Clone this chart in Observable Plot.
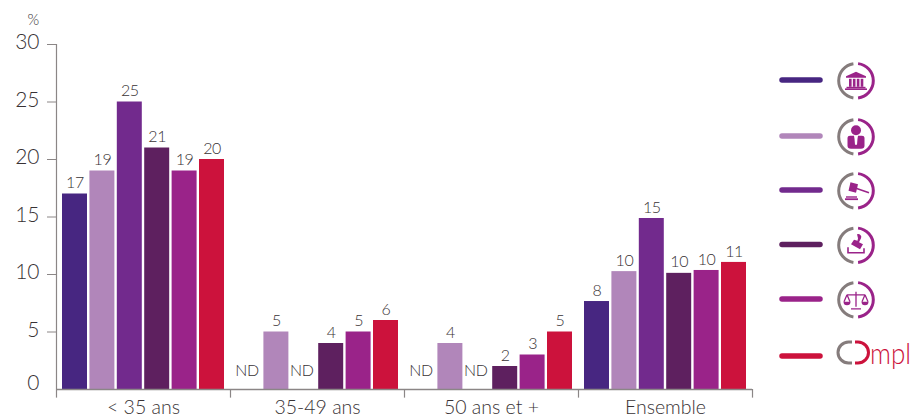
<!DOCTYPE html>
<html><head><meta charset="utf-8">
<style>
html,body{margin:0;padding:0;background:#fff;overflow:hidden}
#wrap{position:relative;width:911px;height:415px}
#wrap svg{position:absolute;left:0;top:0;display:block}
#wrap g[aria-label="text"] text{letter-spacing:-.4px}
</style>
<script src="https://cdn.jsdelivr.net/npm/d3@7"></script>
<script src="https://cdn.jsdelivr.net/npm/@observablehq/plot@0.6"></script>
</head><body><div id="wrap"></div>
<script>
const groups = ["< 35 ans","35-49 ans","50 ans et +","Ensemble"];
const series = ["Fonction publique","Cadres","Justice","Huissiers","Droit","Ompl"];
const colors = ["#472681","#b186ba","#722a8d","#5e205f","#9a2389","#cc123c"];
const under35 = [17,19,25,21,19,20];
const mid = [null,5,null,4,5,6];
const over50 = [null,4,null,2,3,5];
const ensemble = [7.65,10.25,14.87,10.1,10.35,11.05];
const ensembleLabels = ["8","10","15","10","10","11"];
const yTicks = [5,10,15,20,25,30];
const yOrigin = [0];
const grey = "#8b8686", ink = "#383234";
const FONT = "Lato, 'Open Sans', sans-serif";

const table = [under35, mid, over50, ensemble];
const rows = groups.flatMap((g,i)=>series.map((s,j)=>{
  const v = table[i][j];
  return {group:g, series:s, value:v,
    label: v==null ? "ND" : (g==="Ensemble" ? ensembleLabels[j] : String(v))};
}));
const first = series[0], last = series[series.length-1];
const toEdge = 18.5;
const valued = rows.filter(d=>d.value!=null), missing = rows.filter(d=>d.value==null);
const yLabelStyle = {anchor:"left",tickSize:0,tickPadding:17,label:null,fontSize:21,fontWeight:300,fill:ink};

const chart = Plot.plot({
  width:911, height:415, marginLeft:56, marginRight:159, marginTop:44, marginBottom:26,
  style:{fontFamily:FONT, background:"transparent", overflow:"visible"},
  fx:{domain:groups, padding:0, label:null},
  x:{domain:series, range:[62,224], paddingInner:0.088, paddingOuter:0, round:false, axis:null},
  y:{domain:[0,30], label:null},
  color:{domain:series, range:colors},
  marks:[
    Plot.barY(valued,{fx:"group",x:"series",y:"value",fill:"series"}),
    Plot.ruleY([0],{stroke:grey,strokeWidth:1.5}),
    Plot.ruleX(groups.slice(0,1),{fx:d=>d,x:()=>first,y1:0,y2:30,dx:-toEdge,stroke:grey,strokeWidth:1.2}),
    Plot.ruleX(groups,{fx:d=>d,x:()=>first,y1:0,y2:-0.75,dx:-toEdge,stroke:grey,strokeWidth:1.2}),
    Plot.ruleX(groups.slice(-1),{fx:d=>d,x:()=>last,y1:0,y2:-0.75,dx:toEdge,stroke:grey,strokeWidth:1.2}),
    Plot.text(valued,{fx:"group",x:"series",y:"value",text:"label",dy:-11,fill:ink,fontSize:16,fontWeight:300,stroke:"none"}),
    Plot.text(missing,{fx:"group",x:"series",y:()=>0,text:"label",dy:-19,dx:-2,fill:ink,fontSize:16,fontWeight:300,stroke:"none"}),
    Plot.axisY({ticks:yTicks,anchor:"left",tickSize:9,fill:"none",label:null,stroke:grey}),
    Plot.axisY({...yLabelStyle,ticks:yTicks,dy:-2}),
    Plot.axisY({...yLabelStyle,ticks:yOrigin,dy:-6}),
    Plot.axisFx({anchor:"bottom",tickSize:0,tickPadding:11,label:null,fontSize:19.5,fontWeight:300,fill:ink}),
    Plot.text(["%"],{frameAnchor:"top-left",dx:-29,dy:-30,fontSize:15,fontWeight:300,fill:ink,stroke:"none",
      fx:()=>groups[0]})
  ]
});
document.getElementById("wrap").appendChild(chart);

/* legend: line swatches and pictograms */
const ys = [80,136,190,244.5,299,356];
const NS = "http://www.w3.org/2000/svg";
const L = d3.select("#wrap").append("svg").attr("xmlns",NS).attr("width",911).attr("height",415);
series.forEach((s,i)=>{
  L.append("line").attr("x1",782).attr("x2",820).attr("y1",ys[i]).attr("y2",ys[i])
    .attr("stroke",colors[i]).attr("stroke-width",5.5).attr("stroke-linecap","round");
});
const arc = d3.arc();
const P = "#9a2389", G = "#857c7c";
function ring(g, accent, r=17.3, w=3){
  g.append("path").attr("fill",G).attr("d",arc({innerRadius:r-w/2,outerRadius:r+w/2,startAngle:-Math.PI+0.15,endAngle:-0.15}));
  g.append("path").attr("fill",accent).attr("d",arc({innerRadius:r-w/2,outerRadius:r+w/2,startAngle:0.12,endAngle:Math.PI-0.12}));
}
const icon = i=>{const g=L.append("g").attr("transform",`translate(856,${ys[i]+0.8})`);ring(g,P);return g.append("g").attr("fill",P).attr("stroke",P)};
// institution
let g = icon(0);
g.attr("stroke","none");
g.append("path").attr("d","M0,-9L10,-4.5V-3H-10V-4.5Z");
[-7.5,-3.6,0.3,4.2].forEach(x=>g.append("rect").attr("x",x+0.5).attr("y",-2).attr("width",2.6).attr("height",8));
g.append("rect").attr("x",-9.5).attr("y",6).attr("width",19).attr("height",1.6);
g.append("rect").attr("x",-11).attr("y",7.6).attr("width",22).attr("height",1.6);
// person
g = icon(1); g.attr("stroke","none");
g.append("circle").attr("cy",-6.5).attr("r",5);
g.append("path").attr("d","M-8.5,1Q-8.5,-1 -6,-1H-2L-1.5,2L-1,8H1L1.5,2L2,-1H6Q8.5,-1 8.5,1V9Q8.5,12 5,12H-5Q-8.5,12 -8.5,9Z");
// gavel
g = icon(2);
g.append("path").attr("stroke","none").attr("d","M-5.5,-8.5L2,-6.5L0,2L-7.5,0Z");
g.append("path").attr("fill","none").attr("stroke-width",1.6).attr("d","M0,-2.5L13,2");
g.append("rect").attr("stroke","none").attr("x",-10).attr("y",5.5).attr("width",11).attr("height",1.4);
g.append("rect").attr("stroke","none").attr("x",-11).attr("y",7.5).attr("width",13).attr("height",1.8);
// stamp
g = icon(3);
g.append("path").attr("stroke","none").attr("d","M1,-11A3,3 0 0 1 5,-7L3,-3L7,-1L4,4L-5,-1L-2,-5.5L1.5,-4.5L2,-7Z");
g.append("path").attr("fill","none").attr("stroke-width",1.6).attr("d","M-8,2V7.5H8V3");
// scales
g = icon(4);
g.append("path").attr("fill","none").attr("stroke-width",1.3).attr("d","M-9,-5H9M0,-8V7M-5,9H5M-9,-5L-12,2M-9,-5L-6,2M9,-5L6,2M9,-5L12,2");
g.append("path").attr("stroke","none").attr("d","M-12.5,2H-5.5A3.5,3.5 0 0 1 -12.5,2ZM5.5,2H12.5A3.5,3.5 0 0 1 5.5,2Z");
// Ompl logo
const O = "#cc123c";
const lg = L.append("g").attr("transform","translate(853,352.5)");
lg.append("path").attr("fill","none").attr("stroke",G).attr("stroke-width",3)
  .attr("d","M-1,-10.5H-4.5A10.5,10.5 0 0 0 -4.5,10.5H-1");
lg.append("path").attr("fill","none").attr("stroke",O).attr("stroke-width",3)
  .attr("d","M2,-10.5H5A10.5,10.5 0 0 1 5,10.5H2");
L.append("text").attr("x",870).attr("y",364).attr("font-family",FONT).attr("font-weight",300)
  .attr("font-size",29).attr("fill",O).attr("textLength",41).attr("lengthAdjust","spacingAndGlyphs").text("mpl");
</script></body></html>
